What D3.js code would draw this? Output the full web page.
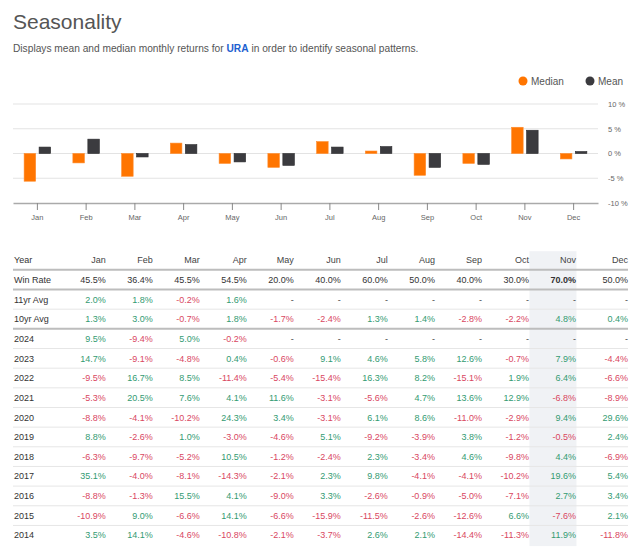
<!DOCTYPE html>
<html>
<head>
<meta charset="utf-8">
<script src="https://cdn.jsdelivr.net/npm/d3@7"></script>
<style>
  body { margin: 0; background: #fff; }
  text { font-family: "Liberation Sans", Arial, sans-serif; }
</style>
</head>
<body>
<svg width="640" height="555"></svg>
<script>
var months = ["Jan", "Feb", "Mar", "Apr", "May", "Jun", "Jul", "Aug", "Sep", "Oct", "Nov", "Dec"];
var medians = [-5.6, -1.9, -4.6, 2.1, -2.0, -2.8, 2.4, 0.5, -4.4, -2.0, 5.3, -1.1];
var means = [1.3, 2.9, -0.7, 1.8, -1.7, -2.4, 1.3, 1.4, -2.8, -2.2, 4.7, 0.4];
var yTicks = [10, 5, 0, -5, -10];

var winRate = [45.5, 36.4, 45.5, 54.5, 20.0, 40.0, 60.0, 50.0, 40.0, 30.0, 70.0, 50.0];
var avg11 = [2.0, 1.8, -0.2, 1.6, null, null, null, null, null, null, null, null];
var avg10 = [1.3, 3.0, -0.7, 1.8, -1.7, -2.4, 1.3, 1.4, -2.8, -2.2, 4.8, 0.4];
var years = ["2024", "2023", "2022", "2021", "2020", "2019", "2018", "2017", "2016", "2015", "2014"];
var yearReturns = [
  [9.5, -9.4, 5.0, -0.2, null, null, null, null, null, null, null, null],
  [14.7, -9.1, -4.8, 0.4, -0.6, 9.1, 4.6, 5.8, 12.6, -0.7, 7.9, -4.4],
  [-9.5, 16.7, 8.5, -11.4, -5.4, -15.4, 16.3, 8.2, -15.1, 1.9, 6.4, -6.6],
  [-5.3, 20.5, 7.6, 4.1, 11.6, -3.1, -5.6, 4.7, 13.6, 12.9, -6.8, -8.9],
  [-8.8, -4.1, -10.2, 24.3, 3.4, -3.1, 6.1, 8.6, -11.0, -2.9, 9.4, 29.6],
  [8.8, -2.6, 1.0, -3.0, -4.6, 5.1, -9.2, -3.9, 3.8, -1.2, -0.5, 2.4],
  [-6.3, -9.7, -5.2, 10.5, -1.2, -2.4, 2.3, -3.4, 4.6, -9.8, 4.4, -6.9],
  [35.1, -4.0, -8.1, -14.3, -2.1, 2.3, 9.8, -4.1, -4.1, -10.2, 19.6, 5.4],
  [-8.8, -1.3, 15.5, 4.1, -9.0, 3.3, -2.6, -0.9, -5.0, -7.1, 2.7, 3.4],
  [-10.9, 9.0, -6.6, 14.1, -6.6, -15.9, -11.5, -2.6, -12.6, 6.6, -7.6, 2.1],
  [3.5, 14.1, -4.6, -10.8, -2.1, -3.7, 2.6, 2.1, -14.4, -11.3, 11.9, -11.8]
];

var orange = "#ff7500", dark = "#3b3b3f", green = "#339b72", red = "#d9475f";
var svg = d3.select("svg");

// title + subtitle
svg.append("text").attr("x", 13).attr("y", 29).attr("font-size", 21).attr("fill", "#555").text("Seasonality");
var sub = svg.append("text").attr("x", 13).attr("y", 52).attr("font-size", 10.2).attr("fill", "#555");
sub.append("tspan").text("Displays mean and median monthly returns for ");
sub.append("tspan").attr("fill", "#1c5fd0").attr("font-weight", "bold").text("URA");
sub.append("tspan").text(" in order to identify seasonal patterns.");

// legend
var legend = [["Median", orange, 523], ["Mean", dark, 590]];
legend.forEach(function (l) {
  svg.append("circle").attr("cx", l[2]).attr("cy", 81).attr("r", 4.5).attr("fill", l[1]);
  svg.append("text").attr("x", l[2] + 8).attr("y", 84.5).attr("font-size", 10).attr("fill", "#555").text(l[0]);
});

// bar chart
var x = d3.scaleBand().domain(months).range([13, 598]);
var sub_x = d3.scaleBand().domain(["Median", "Mean"]).range([-13.25, 13.25]).paddingInner(0.23);
var y = d3.scaleLinear().domain([-10, 10]).range([203, 104]);

var chart = svg.append("g");
chart.selectAll(".grid").data(yTicks.filter(function (d) { return d > -10; })).enter().append("line")
  .attr("x1", 13).attr("x2", 598)
  .attr("y1", function (d) { return y(d); }).attr("y2", function (d) { return y(d); })
  .attr("stroke", "#e3e3e3").attr("stroke-width", 1);

var yAxis = d3.axisRight(y).tickValues(yTicks).tickSize(0).tickPadding(10)
  .tickFormat(function (d) { return d + " %"; });
chart.append("g").attr("transform", "translate(598,0)").call(yAxis)
  .call(function (g) { g.select(".domain").remove(); })
  .selectAll("text").attr("font-size", 7.5).attr("fill", "#666").attr("font-family", "Liberation Sans, Arial");

var xAxis = d3.axisBottom(x).tickSize(7).tickPadding(5).tickSizeOuter(0);
chart.append("g").attr("transform", "translate(0,203)").call(xAxis)
  .call(function (g) {
    g.select(".domain").attr("stroke", "#aaa").attr("stroke-width", 1.5);
    g.selectAll(".tick line").attr("stroke", "#888");
    g.selectAll("text").attr("font-size", 7.5).attr("fill", "#666").attr("font-family", "Liberation Sans, Arial");
  });

var bars = [];
months.forEach(function (m, i) {
  bars.push({ month: m, key: "Median", value: medians[i] });
  bars.push({ month: m, key: "Mean", value: means[i] });
});
chart.selectAll(".bar").data(bars).enter().append("rect")
  .attr("x", function (d) { return x(d.month) + x.bandwidth() / 2 + sub_x(d.key); })
  .attr("width", sub_x.bandwidth())
  .attr("y", function (d) { return y(Math.max(0, d.value)); })
  .attr("height", function (d) { return Math.abs(y(d.value) - y(0)); })
  .attr("fill", function (d) { return d.key == "Median" ? orange : dark; })
  .attr("stroke", function (d) { return d.key == "Median" ? "#ff8a2a" : "#2a2a2d"; })
  .attr("stroke-width", 0.6);

// table
var rowNames = ["Year", "Win Rate", "11yr Avg", "10yr Avg"].concat(years);
var rowData = [null, winRate, avg11, avg10].concat(yearReturns);
var ry = d3.scaleBand().domain(rowNames).range([250.2, 545.1]);
var cx = d3.scaleBand().domain(months).range([58.7, 623]);
function colRight(m) { return cx(m) + cx.bandwidth() + (m == "Dec" ? 5 : 0); }

var table = svg.append("g");
table.append("rect").attr("x", cx("Nov") + 0.5).attr("width", cx.bandwidth())
  .attr("y", ry.range()[0] + 1).attr("height", ry.range()[1] - ry.range()[0])
  .attr("fill", "#f0f2f5");

var thick = ["Year", "Win Rate", "10yr Avg"];
rowNames.slice(0, -1).forEach(function (r) {
  var ly = ry(r) + ry.bandwidth();
  var isThick = thick.indexOf(r) >= 0;
  table.append("line").attr("x1", 13).attr("x2", 628).attr("y1", ly).attr("y2", ly)
    .attr("stroke", isThick ? "#bdbdbd" : "#e6e6e6").attr("stroke-width", isThick ? 2 : 1);
});

var maxWin = d3.max(winRate);
rowNames.forEach(function (r, ri) {
  var cy = ry(r) + ry.bandwidth() / 2 + 3.2;
  table.append("text").attr("x", 14).attr("y", cy).attr("font-size", 9).attr("fill", "#333").text(r);
  months.forEach(function (m, mi) {
    var t = table.append("text").attr("x", colRight(m)).attr("y", cy)
      .attr("text-anchor", "end").attr("font-size", 9);
    if (ri == 0) { t.attr("fill", "#444").text(m); return; }
    var v = rowData[ri][mi];
    if (v == null) { t.attr("fill", "#444").text("-"); return; }
    if (ri == 1) {
      t.attr("fill", "#333").text(v.toFixed(1) + "%");
      if (v == maxWin) t.attr("font-weight", "bold");
      return;
    }
    t.attr("fill", v < 0 ? red : green).text(v.toFixed(1) + "%");
  });
});
</script>
</body>
</html>
